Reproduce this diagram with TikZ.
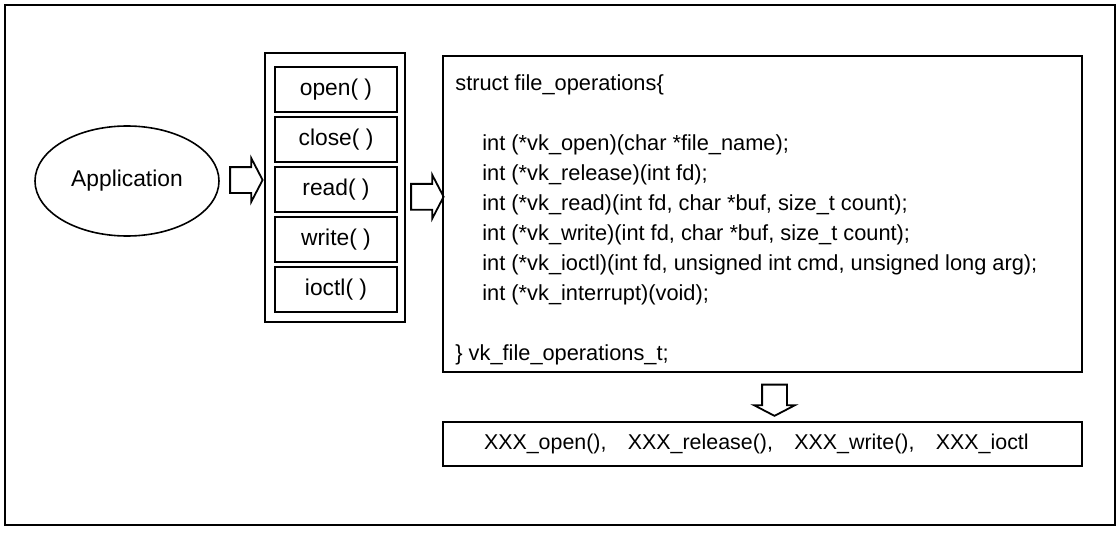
\documentclass[tikz,border=0pt]{standalone}
\usepackage{fontspec}
\setmainfont{Liberation Sans}
\usetikzlibrary{shapes.arrows,calc}
\tikzset{
  box/.style={draw,line width=1pt,inner sep=0pt},
  callbox/.style={box,minimum width=61pt,minimum height=22.5pt,font=\fontsize{11.4}{13}\selectfont},
  codetext/.style={inner sep=0pt,align=left,font=\fontsize{10.9}{15}\selectfont},
  hollow/.style={single arrow,draw,line width=0.9pt,inner sep=6pt,minimum height=15.5pt,
    single arrow head extend=4.5pt,single arrow tip angle=125},
}
\begin{document}
\begin{tikzpicture}[x=0.5pt,y=-0.5pt]
  \useasboundingbox (0,0) rectangle (1119,535);
  \draw[line width=1pt] (5,5) rectangle (1115,525);
  \node[font=\fontsize{11.4}{13}\selectfont] (app) at (127,181) {Application};
  \draw[line width=0.8pt] (app.center) ellipse [x radius=46pt,y radius=27.5pt];
  \node[box,minimum width=70pt,minimum height=134.5pt] (ops) at (335,187.5) {};
  \foreach \name/\y in {open/89.5,close/139.5,read/189.5,write/239.5,ioctl/289.5}
    \node[callbox] (\name) at (336,\y) {\name( )};
  \node[hollow] (toops) at (243,180) {};
  \node[box,anchor=north west,minimum width=319.5pt,minimum height=158pt] (fops) at (442,55) {};
  \node[hollow] (tofops) at ($(ops.east)!0.5!(fops.west)+(0,-4)$) {};
  \node[codetext,anchor=north west] (fopstext) at (455,74) {%
    struct file\_operations\{\\[\baselineskip]
    \hspace*{13.5pt}int (*vk\_open)(char *file\_name);\\
    \hspace*{13.5pt}int (*vk\_release)(int fd);\\
    \hspace*{13.5pt}int (*vk\_read)(int fd, char *buf, size\_t count);\\
    \hspace*{13.5pt}int (*vk\_write)(int fd, char *buf, size\_t count);\\
    \hspace*{13.5pt}int (*vk\_ioctl)(int fd, unsigned int cmd, unsigned long arg);\\
    \hspace*{13.5pt}int (*vk\_interrupt)(void);\\[\baselineskip]
    \} vk\_file\_operations\_t;};
  \node[box,anchor=north west,minimum width=319.5pt,minimum height=22pt,text width=278.5pt,
    inner xsep=20.5pt,align=left,font=\fontsize{10.7}{13}\selectfont] (impl) at (442,421)
    {XXX\_open(),\ \ \ XXX\_release(),\ \ \ XXX\_write(),\ \ \ XXX\_ioctl};
  \node[hollow,shape border rotate=270,inner sep=5.75pt,single arrow head extend=4pt] (toimpl)
    at ($(fops.south)!0.5!(impl.north)+(12,0)$) {};
\end{tikzpicture}
\end{document}
